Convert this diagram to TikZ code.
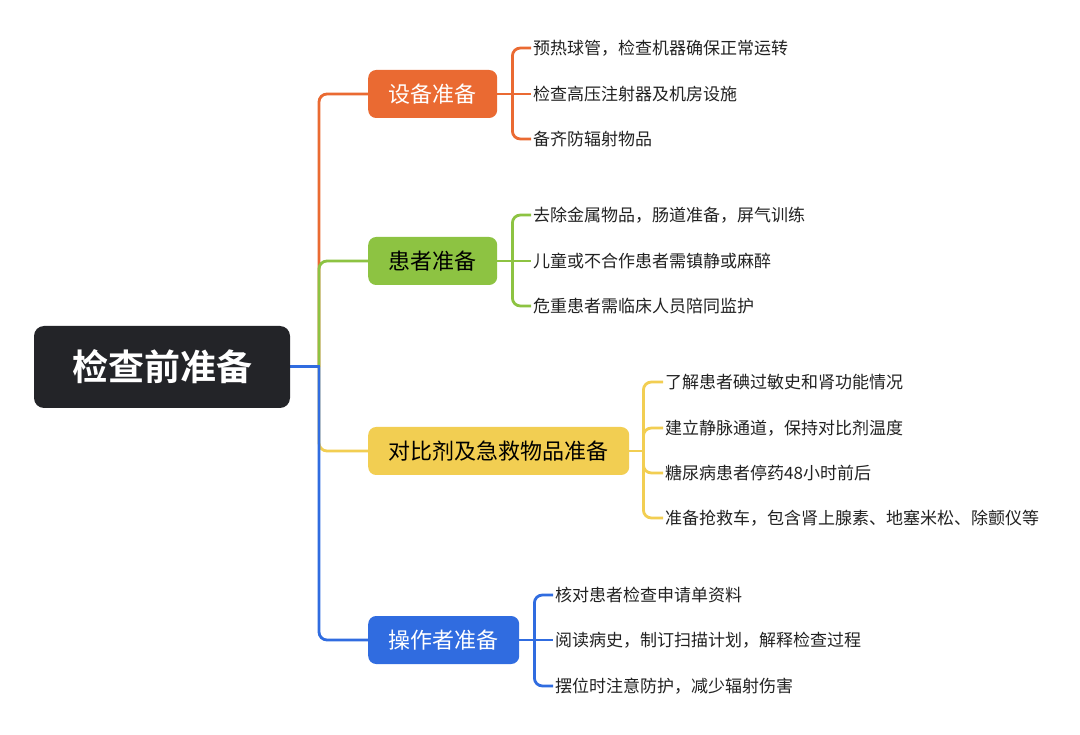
\documentclass[tikz,border=0pt]{standalone}
\usepackage{fontspec}
\usetikzlibrary{backgrounds,calc}
\newfontfamily\cjk{Noto Sans CJK SC}
\newfontfamily\cjkbold{Noto Sans CJK SC Bold}
\definecolor{cor}{RGB}{234,106,50}
\definecolor{cgr}{RGB}{141,195,66}
\definecolor{cye}{RGB}{242,206,82}
\definecolor{cbl}{RGB}{48,108,224}
\definecolor{croot}{RGB}{35,36,40}
\definecolor{ctxt}{RGB}{34,34,34}
\begin{document}
\begin{tikzpicture}[x=1pt,y=-1pt,
  rootbox/.style={fill=croot,text=white,rounded corners=10pt,minimum width=256pt,minimum height=82pt,inner sep=0pt,font=\cjkbold\fontsize{36}{40}\selectfont},
  branchbox/.style={rounded corners=8pt,minimum height=48pt,inner xsep=20.5pt,inner ysep=0pt,anchor=west,font=\cjk\fontsize{22}{26}\selectfont},
  leaf/.style={anchor=west,inner sep=2pt,text=ctxt,font=\cjk\fontsize{17}{20}\selectfont},
  conn/.style={line width=2.8pt,rounded corners=8pt},
]
\useasboundingbox (0,0) rectangle (1080,735);

% nodes
\node[rootbox] (root) at (162,367) {检查前准备};
\node[branchbox,fill=cor,text=white] (b1) at (368,94) {设备准备};
\node[branchbox,fill=cgr,text=black] (b2) at (368,261) {患者准备};
\node[branchbox,fill=cye,text=black] (b3) at (368,451) {对比剂及急救物品准备};
\node[branchbox,fill=cbl,text=white] (b4) at (368,640) {操作者准备};

\node[leaf] (l11) at (531,48) {预热球管，检查机器确保正常运转};
\node[leaf] (l12) at (531,94) {检查高压注射器及机房设施};
\node[leaf] (l13) at (531,139) {备齐防辐射物品};

\node[leaf] (l21) at (531,215) {去除金属物品，肠道准备，屏气训练};
\node[leaf] (l22) at (531,261) {儿童或不合作患者需镇静或麻醉};
\node[leaf] (l23) at (531,306) {危重患者需临床人员陪同监护};

\node[leaf] (l31) at (663,382) {了解患者碘过敏史和肾功能情况};
\node[leaf] (l32) at (663,428) {建立静脉通道，保持对比剂温度};
\node[leaf] (l33) at (663,473) {糖尿病患者停药48小时前后};
\node[leaf] (l34) at (663,518) {准备抢救车，包含肾上腺素、地塞米松、除颤仪等};

\node[leaf] (l41) at (553,595) {核对患者检查申请单资料};
\node[leaf] (l42) at (553,640) {阅读病史，制订扫描计划，解释检查过程};
\node[leaf] (l43) at (553,686) {摆位时注意防护，减少辐射伤害};

\coordinate (trunk) at (319,367);
\coordinate (trunkx) at (320.4,367);
\coordinate (k1) at ($(b1.east)+(15,0)$);
\coordinate (k2) at ($(b2.east)+(15,0)$);
\coordinate (k3) at ($(b3.east)+(14,0)$);
\coordinate (k4) at ($(b4.east)+(15,0)$);

\begin{pgfonlayer}{background}
\fill[white] (0,0) rectangle (1080,735);
% main branches
\draw[conn,cor] (trunk) |- (b1.west);
\draw[conn,cgr] (trunk) |- (b2.west);
\draw[conn,cye] (trunk) |- (b3.west);
\draw[conn,cbl] (trunk) |- (b4.west);
\draw[cbl,line width=3pt] ($(root.east)+(-4,0)$) -- (trunkx);
% leaf brackets
\draw[conn,cor] (b1.east) -- (l12.west);
\draw[conn,cor] (k1) |- (l11.west);
\draw[conn,cor] (k1) |- (l13.west);
\draw[conn,cgr] (b2.east) -- (l22.west);
\draw[conn,cgr] (k2) |- (l21.west);
\draw[conn,cgr] (k2) |- (l23.west);
\draw[conn,cye] (b3.east) -- (k3);
\draw[conn,cye] (k3) |- (l31.west);
\draw[conn,cye] (k3) |- (l32.west);
\draw[conn,cye] (k3) |- (l33.west);
\draw[conn,cye] (k3) |- (l34.west);
\draw[conn,cbl] (b4.east) -- (l42.west);
\draw[conn,cbl] (k4) |- (l41.west);
\draw[conn,cbl] (k4) |- (l43.west);
\end{pgfonlayer}
\end{tikzpicture}
\end{document}
